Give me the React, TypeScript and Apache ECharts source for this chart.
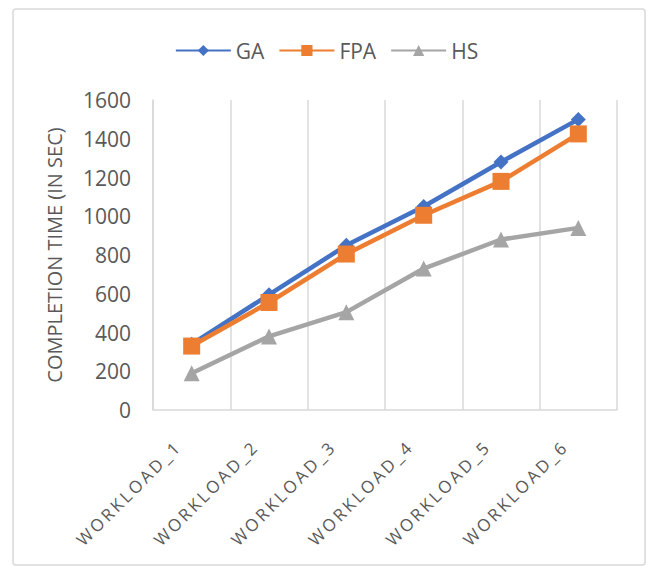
import React, { useEffect, useRef } from "react";
import * as echarts from "echarts";

const categories = ["WORKLOAD_1", "WORKLOAD_2", "WORKLOAD_3", "WORKLOAD_4", "WORKLOAD_5", "WORKLOAD_6"];
const gaValues = [340, 595, 850, 1050, 1280, 1500];
const fpaValues = [330, 555, 805, 1005, 1180, 1425];
const hsValues = [190, 380, 505, 730, 880, 940];
const seriesNames = ["GA", "FPA", "HS"];
const yAxisName = "COMPLETION TIME (IN SEC)";

const FONT = "'Open Sans', 'Noto Sans', sans-serif";
const TEXT_COLOR = "#595959";

export default function App() {
  const ref = useRef<HTMLDivElement>(null);

  useEffect(() => {
    if (!ref.current) return;
    const chart = echarts.init(ref.current, undefined, { renderer: "svg" });
    const lineStyle = (color: string) => ({ color, width: 4.5 });
    chart.setOption({
      animation: false,
      backgroundColor: "#ffffff",
      textStyle: { fontFamily: FONT },
      graphic: [
        {
          type: "rect",
          shape: { x: 13, y: 9, width: 632, height: 556, r: 3 },
          style: { fill: "none", stroke: "#d9d9d9", lineWidth: 1.5 },
          silent: true,
          z: -1,
        },
      ],
      legend: {
        top: 35,
        left: "center",
        itemWidth: 55,
        itemHeight: 14,
        itemGap: 14,
        textStyle: { fontSize: 21, color: TEXT_COLOR, fontFamily: FONT },
        data: seriesNames,
      },
      grid: { left: 153, right: 36, top: 100, bottom: 156, containLabel: false },
      xAxis: {
        type: "category",
        data: categories,
        boundaryGap: true,
        axisLine: { show: true, lineStyle: { color: "#d9d9d9", width: 1.5 } },
        axisTick: { show: false },
        splitLine: { show: true, lineStyle: { color: "#d9d9d9", width: 1.5 } },
        axisLabel: {
          rotate: 45,
          color: TEXT_COLOR,
          fontSize: 17,
          fontFamily: FONT,
          margin: 20,
          padding: [0, 19, 0, 0],
          interval: 0,
        },
      },
      yAxis: {
        type: "value",
        min: 0,
        max: 1600,
        interval: 200,
        name: yAxisName,
        nameLocation: "middle",
        nameRotate: 90,
        nameGap: 89,
        nameTextStyle: { fontSize: 20, color: TEXT_COLOR, fontFamily: FONT },
        axisLine: { show: true, lineStyle: { color: "#d9d9d9", width: 1.5 } },
        axisTick: { show: false },
        splitLine: { show: false },
        axisLabel: {
          color: TEXT_COLOR,
          fontSize: 21,
          fontFamily: FONT,
          margin: 22,
          formatter: (v: number) => String(v),
        },
      },
      series: [
        {
          name: seriesNames[0],
          type: "line",
          data: gaValues,
          symbol: "diamond",
          symbolSize: 15,
          itemStyle: { color: "#4472C4" },
          lineStyle: lineStyle("#4472C4"),
          z: 2,
        },
        {
          name: seriesNames[1],
          type: "line",
          data: fpaValues,
          symbol: "rect",
          symbolSize: 17,
          itemStyle: { color: "#ED7D31" },
          lineStyle: lineStyle("#ED7D31"),
          z: 3,
        },
        {
          name: seriesNames[2],
          type: "line",
          data: hsValues,
          symbol: "triangle",
          symbolSize: 16,
          itemStyle: { color: "#A5A5A5" },
          lineStyle: lineStyle("#A5A5A5"),
          z: 1,
        },
      ],
    });

    const applySpacing = () => {
      if (!ref.current) return;
      const texts = ref.current.querySelectorAll("text");
      texts.forEach((t) => {
        if ((t.textContent || "").indexOf("WORKLOAD_") === 0) {
          t.setAttribute("letter-spacing", "2.8");
        }
      });
    };
    chart.on("finished", applySpacing);
    const timer = setTimeout(applySpacing, 50);
    applySpacing();

    return () => {
      clearTimeout(timer);
      chart.dispose();
    };
  }, []);

  return <div ref={ref} style={{ width: 653, height: 566, position: "absolute", left: 0, top: 0 }} />;
}
